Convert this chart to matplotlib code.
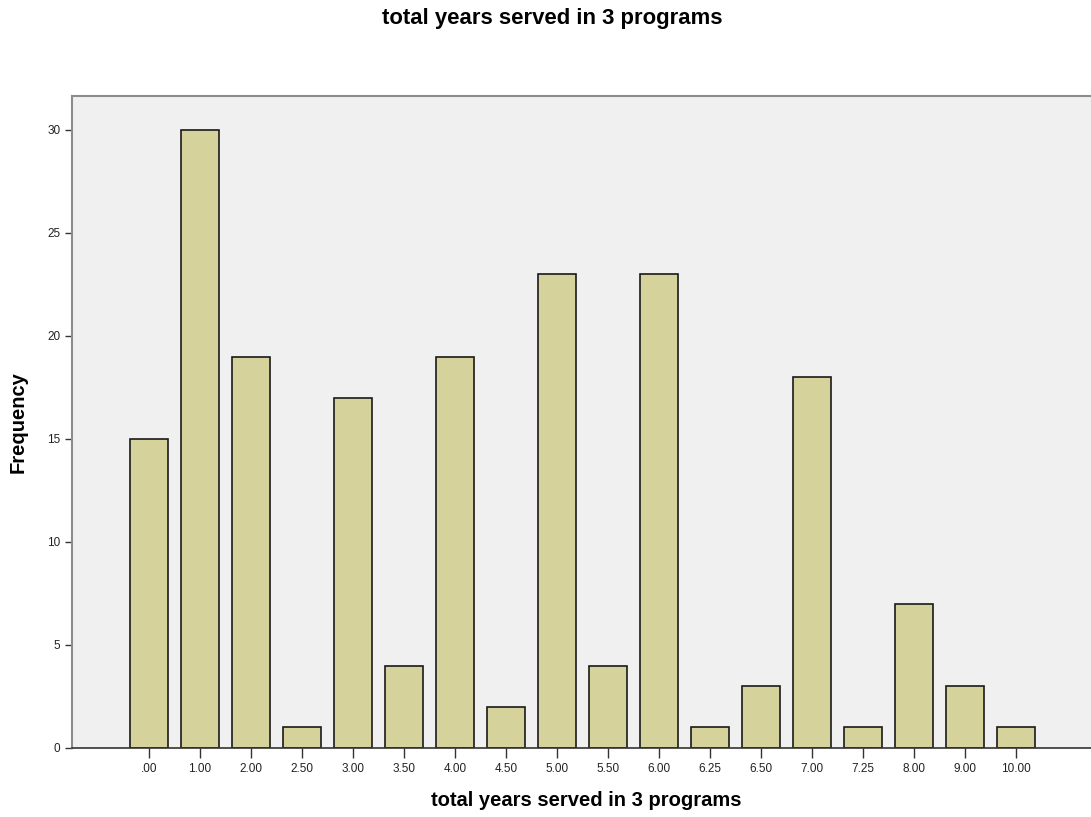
import matplotlib.pyplot as plt

plt.rcParams['font.family'] = ['Liberation Sans', 'DejaVu Sans']

# Data
labels = ['.00', '1.00', '2.00', '2.50', '3.00', '3.50', '4.00', '4.50', '5.00',
          '5.50', '6.00', '6.25', '6.50', '7.00', '7.25', '8.00', '9.00', '10.00']
freq = [15, 30, 19, 1, 17, 4, 19, 2, 23, 4, 23, 1, 3, 18, 1, 7, 3, 1]
pos = list(range(len(labels)))

fig = plt.figure(figsize=(10.91, 8.17), dpi=100)
ax = fig.add_axes([0.066, 0.0845, 0.934, 0.798])
ax.set_facecolor('#f0f0f0')

ax.bar(pos, freq, width=0.75, color='#d6d29b', edgecolor='#1a1a1a', linewidth=1.2, zorder=2)

ax.set_xlim(-1.51, 18.47)
ax.set_ylim(0, 31.65)
ax.set_xticks(pos)
ax.set_xticklabels(labels)
ax.set_yticks([0, 5, 10, 15, 20, 25, 30])
ax.tick_params(axis='both', labelsize=8.5, width=1, color='#333333', labelcolor='#222222')
ax.tick_params(axis='x', length=7)
ax.tick_params(axis='y', length=5)

for s in ['top', 'left']:
    ax.spines[s].set_color('#8c8c8c')
    ax.spines[s].set_linewidth(1.5)
ax.spines['right'].set_visible(False)
ax.spines['bottom'].set_color('#333333')
ax.spines['bottom'].set_linewidth(1.2)

ax.set_xlabel('total years served in 3 programs', fontsize=14.5, fontweight='bold')
ax.xaxis.set_label_coords(0.505, -0.066)
ax.set_ylabel('Frequency', fontsize=14.5, fontweight='bold')
ax.yaxis.set_label_coords(-0.044, 0.5)
fig.text(0.506, 0.977, 'total years served in 3 programs', ha='center', va='center',
         fontsize=15.9, fontweight='bold')

fig.savefig('out.png', dpi=100)
